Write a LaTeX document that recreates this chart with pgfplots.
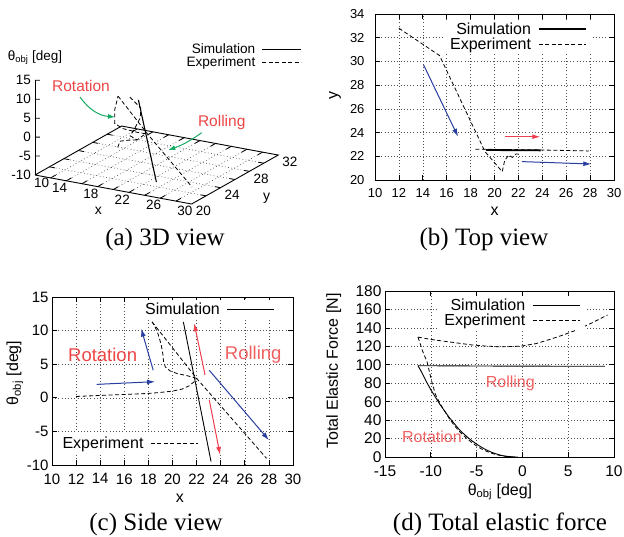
\documentclass[border=0pt]{standalone}
\usepackage{fontspec}
\setmainfont{Liberation Sans}
\newfontfamily\serif{Liberation Serif}
\usepackage{pgfplots}
\pgfplotsset{compat=1.18}
\usetikzlibrary{arrows.meta}
\definecolor{myred}{RGB}{238,62,78}
\definecolor{txtred}{RGB}{236,70,70}
\definecolor{txtred2}{RGB}{240,96,96}
\definecolor{myblue}{RGB}{40,62,160}
\definecolor{mygreen}{RGB}{20,170,100}
\definecolor{gridc}{RGB}{80,80,80}
\tikzset{tl3/.style={font=\fontsize{13.5}{13.5}\selectfont, inner sep=0pt}}
\pgfplotsset{
 gp/.style={scale only axis, tick align=inside, major tick length=5pt,
  grid=major, major grid style={gridc, line width=0.6pt, dash pattern=on 0.8pt off 2.4pt},
  axis line style={line width=0.8pt}, every tick/.style={black, line width=0.7pt},
  tick label style={font=\fontsize{14}{14}\selectfont},
  xticklabel style={yshift=-5pt},
  label style={font=\fontsize{16}{16}\selectfont},
  legend plot pos=right, legend cell align=right,
  legend style={draw=none, fill=white, font=\fontsize{16}{16}\selectfont, inner xsep=5pt, inner ysep=2pt, column sep=6pt, nodes={inner sep=1pt}},
  /pgf/number format/assume math mode=true},
 sim/.style={black, line width=0.9pt},
 exp/.style={black, line width=0.8pt, dash pattern=on 4pt off 2.5pt},
 arr/.style={line width=1pt, -{Latex[length=8pt,width=5pt]}, forget plot},
}
\begin{document}
\begin{tikzpicture}
\useasboundingbox (0pt,0pt) rectangle (624pt,-536pt);

% ---------------- (a) 3D view ----------------
\begin{axis}[at={(35pt,-137.1pt)}, anchor=origin,
  x={(7.83pt,-1.45pt)}, y={(7.22pt,4.08pt)}, z={(0pt,3.79pt)},
  xmin=10,xmax=30,ymin=20,ymax=32,zmin=-10,zmax=15,
  hide axis, clip=false]
\addplot3[gridc, line width=0.6pt, dash pattern=on 0.8pt off 2.4pt, empty line=jump] table {
12 20 -10
12 32 -10

14 20 -10
14 32 -10

16 20 -10
16 32 -10

18 20 -10
18 32 -10

20 20 -10
20 32 -10

22 20 -10
22 32 -10

24 20 -10
24 32 -10

26 20 -10
26 32 -10

28 20 -10
28 32 -10

10 22 -10
30 22 -10

10 24 -10
30 24 -10

10 26 -10
30 26 -10

10 28 -10
30 28 -10

10 30 -10
30 30 -10
};
\addplot3[black, line width=0.8pt, empty line=jump] table {
12 20 -10
12 20.7 -10

14 20 -10
14 20.7 -10

16 20 -10
16 20.7 -10

18 20 -10
18 20.7 -10

20 20 -10
20 20.7 -10

22 20 -10
22 20.7 -10

24 20 -10
24 20.7 -10

26 20 -10
26 20.7 -10

28 20 -10
28 20.7 -10

12 32 -10
12 31.3 -10

14 32 -10
14 31.3 -10

16 32 -10
16 31.3 -10

18 32 -10
18 31.3 -10

20 32 -10
20 31.3 -10

22 32 -10
22 31.3 -10

24 32 -10
24 31.3 -10

26 32 -10
26 31.3 -10

28 32 -10
28 31.3 -10

30 22 -10
29.3 22 -10

30 24 -10
29.3 24 -10

30 26 -10
29.3 26 -10

30 28 -10
29.3 28 -10

30 30 -10
29.3 30 -10

10 22 -10
10.7 22 -10

10 24 -10
10.7 24 -10

10 26 -10
10.7 26 -10

10 28 -10
10.7 28 -10

10 30 -10
10.7 30 -10

10 20 -5
10.48 20.17 -5

10 20 0
10.48 20.17 0

10 20 5
10.48 20.17 5

10 20 10
10.48 20.17 10

10 20 15
10.48 20.17 15
};
\addplot3[black, line width=0.9pt] coordinates {(10,20,-10)(30,20,-10)(30,32,-10)(10,32,-10)(10,20,-10)};
\addplot3[black, line width=0.9pt] coordinates {(10,20,-10)(10,20,15)};
% data
\addplot3[exp] coordinates {(18.3,22.5,11.3)(22,22.5,2.9)(27.8,22.45,-9.0)};
\addplot3[exp] coordinates {(22,22.3,3.0)(21.2,22.0,3.4)(19.8,21.5,4.4)(19.25,21.0,6.1)(18.8,21.5,9)(18.3,22.5,11.3)};
\addplot3[exp] coordinates {(20.0,22.3,11.9)(21.3,22.4,9.4)(21.5,22.1,7.2)(21,21.9,4.5)(20.5,21.8,2.4)(21.2,22.0,1.4)(22,22.3,3.0)};
\addplot3[exp] coordinates {(19,21.7,-1.1)(19.2,21.8,0.5)(20.3,21.8,1.2)(21.2,22.0,1.4)};
\addplot3[black, line width=1.1pt] coordinates {(20.9,22.5,11.3)(23.2,22.5,-9.5)};
% tick labels
\node[tl3, anchor=east, xshift=-4pt] at (axis cs:10,20,-10) {-10};
\node[tl3, anchor=east, xshift=-4pt] at (axis cs:10,20,-5) {-5};
\node[tl3, anchor=east, xshift=-4pt] at (axis cs:10,20,0) {0};
\node[tl3, anchor=east, xshift=-4pt] at (axis cs:10,20,5) {5};
\node[tl3, anchor=east, xshift=-4pt] at (axis cs:10,20,10) {10};
\node[tl3, anchor=east, xshift=-4pt] at (axis cs:10,20,15) {15};
\node[tl3, anchor=north west, xshift=-1pt, yshift=-3pt] at (axis cs:10,20,-10) {10};
\node[tl3, anchor=north east, xshift=1pt, yshift=-2pt] at (axis cs:14,20,-10) {14};
\node[tl3, anchor=north east, xshift=1pt, yshift=-2pt] at (axis cs:18,20,-10) {18};
\node[tl3, anchor=north east, xshift=1pt, yshift=-2pt] at (axis cs:22,20,-10) {22};
\node[tl3, anchor=north east, xshift=1pt, yshift=-2pt] at (axis cs:26,20,-10) {26};
\node[tl3, anchor=north east, xshift=1pt, yshift=-2pt] at (axis cs:30,20,-10) {30};
\node[tl3, anchor=west, xshift=4pt, yshift=-7pt] at (axis cs:30,20,-10) {20};
\node[tl3, anchor=west, xshift=4pt, yshift=-7pt] at (axis cs:30,24,-10) {24};
\node[tl3, anchor=west, xshift=4pt, yshift=-7pt] at (axis cs:30,28,-10) {28};
\node[tl3, anchor=west, xshift=4pt, yshift=-7pt] at (axis cs:30,32,-10) {32};
\end{axis}
\node[font=\fontsize{14}{14}\selectfont] at (98.3pt,-210.7pt) {x};
\node[font=\fontsize{14}{14}\selectfont] at (266.7pt,-198.3pt) {y};
\node[font=\fontsize{13.5}{13.5}\selectfont] at (35pt,-58pt) {θ\textsubscript{obj} [deg]};
\node[font=\fontsize{15.5}{15.5}\selectfont, text=txtred] at (81pt,-86pt) {Rotation};
\node[font=\fontsize{15.5}{15.5}\selectfont, text=txtred] at (221.7pt,-122.7pt) {Rolling};
\draw[mygreen, line width=1pt, -{Latex[length=7pt,width=5pt]}] (80pt,-97pt) to[bend right=25] (115pt,-117pt);
\draw[mygreen, line width=1pt, -{Latex[length=7pt,width=5pt]}] (201.7pt,-132.7pt) to[bend left=8] (168.3pt,-150pt);
% legend for (a)
\begin{axis}[hide axis, scale only axis, at={(0pt,-536pt)}, anchor=south west, width=624pt, height=536pt,
  xmin=0,xmax=1,ymin=0,ymax=1, legend plot pos=right, legend cell align=right,
  legend style={draw=none, fill=white, font=\fontsize{13.6}{13.6}\selectfont, inner xsep=2pt, inner ysep=1pt, column sep=6pt, nodes={inner sep=0.5pt}, at={(axis description cs:0.487,0.896)}, anchor=east},
  legend image code/.code={\draw[#1] (0pt,0pt) -- (39pt,0pt);}]
\addlegendimage{sim}\addlegendentry{Simulation}
\addlegendimage{exp}\addlegendentry{Experiment}
\end{axis}

% ---------------- (b) Top view ----------------
\begin{axis}[gp, at={(375pt,-180pt)}, anchor=south west, width=239pt, height=166pt,
  xmin=10,xmax=30,ymin=20,ymax=34, xtick={10,12,...,30}, ytick={20,22,...,34},
  tick label style={font=\fontsize{13}{13}\selectfont},
  yticklabel style={xshift=-7pt},
  xlabel={x}, ylabel={y},
  xlabel style={at={(axis description cs:0.5,-0.187)},anchor=center},
  ylabel style={at={(axis description cs:-0.167,0.512)},anchor=center},
  legend style={at={(axis description cs:0.908,0.863)},anchor=east},
  legend image code/.code={\draw[#1] (0pt,0pt) -- (47pt,0pt);}]
\addplot[sim, line width=1.8pt] coordinates {(19.3,22.53)(23.85,22.5)};
\addlegendentry{Simulation}
\addplot[exp] coordinates {(18.4,22.6)(23,22.55)(27.9,22.45)};
\addlegendentry{Experiment}
\addplot[exp, forget plot] coordinates {(12,32.8)(15.4,30.5)(19.2,22.4)(20.65,20.7)(20.85,21.65)(21.2,22.1)(21.5,21.9)(21.8,22.2)(22.2,22.2)};
\addplot[arr, myblue] coordinates {(14.07,29.7)(16.95,23.65)};
\addplot[arr, myred] coordinates {(20.9,23.65)(23.83,23.65)};
\addplot[arr, myblue] coordinates {(22.3,21.55)(28.1,21.35)};
\end{axis}

% ---------------- (c) Side view ----------------
% frame, grid, ticks and the Simulation key
\begin{axis}[gp, at={(52pt,-465pt)}, anchor=south west, width=241pt, height=168pt,
  xmin=10,xmax=30,ymin=-10,ymax=15, xtick={10,12,...,30}, ytick={-10,-5,...,15},
  tick label style={font=\fontsize{15}{15}\selectfont},
  xlabel={x}, ylabel={θ\textsubscript{obj} [deg]},
  xlabel style={at={(axis description cs:0.531,-0.196)},anchor=center},
  ylabel style={at={(axis description cs:-0.154,0.548)},anchor=center},
  legend style={at={(axis description cs:0.946,0.923)},anchor=east},
  legend image code/.code={\draw[#1] (0pt,0pt) -- (47pt,0pt);}]
\addlegendimage{sim}\addlegendentry{Simulation}
\end{axis}
% the Experiment key (opaque, under the data)
\begin{axis}[hide axis, scale only axis, at={(52pt,-465pt)}, anchor=south west, width=241pt, height=168pt,
  xmin=0,xmax=1,ymin=0,ymax=1, legend plot pos=right, legend cell align=right,
  legend style={draw=none, fill=white, font=\fontsize{16}{16}\selectfont, inner xsep=4pt, inner ysep=3pt, column sep=6pt, nodes={inner sep=1pt}, at={(axis description cs:0.739,0.131)}, anchor=east},
  legend image code/.code={\draw[#1] (0pt,0pt) -- (47pt,0pt); \path[draw=none] (47pt,0pt) -- (75pt,0pt);}]
\addlegendimage{exp}\addlegendentry{Experiment}
\end{axis}
% the data
\begin{axis}[hide axis, scale only axis, at={(52pt,-465pt)}, anchor=south west, width=241pt, height=168pt,
  xmin=10,xmax=30,ymin=-10,ymax=15]
\addplot[sim] coordinates {(20.9,11.3)(23.2,-9.5)};
\addplot[exp] coordinates {(12,0.2)(14,0.35)(16,0.5)(18,0.65)(19,0.8)(20,1.0)(20.8,1.3)(21.4,1.8)(21.8,2.4)(22,2.9)};
\addplot[exp] coordinates {(22,2.9)(21.2,3.3)(20.4,3.6)(19.8,4.0)(19.4,4.6)(19.25,5.5)(19.2,6.5)(19.05,8.0)(18.8,9.5)(18.5,10.8)(18.3,11.3)};
\addplot[exp] coordinates {(18.3,11.3)(22,2.9)(27.8,-9.0)};
\addplot[arr, myblue] coordinates {(13.7,2.0)(18.55,2.4)};
\addplot[arr, myblue] coordinates {(18.4,4.1)(17.4,10.3)};
\addplot[arr, myred] coordinates {(22.7,3.4)(21.8,11.1)};
\addplot[arr, myred] coordinates {(23.05,-0.3)(23.95,-8.5)};
\addplot[arr, myblue] coordinates {(23.05,4.1)(28.0,-6.3)};
\node[font=\fontsize{18.5}{18.5}\selectfont, text=txtred] at (axis cs:14.2,6.4) {Rotation};
\node[font=\fontsize{18.5}{18.5}\selectfont, text=txtred2] at (axis cs:26.7,6.4) {Rolling};
\end{axis}

% ---------------- (d) Total elastic force ----------------
\begin{axis}[gp, at={(385pt,-457pt)}, anchor=south west, width=229pt, height=166pt,
  xmin=-15,xmax=10,ymin=0,ymax=180, xtick={-15,-10,...,10}, ytick={0,20,...,180},
  tick label style={font=\fontsize{15.5}{15.5}\selectfont},
  xlabel={θ\textsubscript{obj} [deg]}, ylabel={Total Elastic Force [N]},
  xlabel style={at={(axis description cs:0.502,-0.209)},anchor=center},
  ylabel style={at={(axis description cs:-0.224,0.518)},anchor=center},
  legend style={at={(axis description cs:0.875,0.866)},anchor=east},
  legend image code/.code={\draw[#1] (0pt,0pt) -- (47pt,0pt);}]
\addplot[sim] coordinates {(-11.4,99)(-11,92)(-10.5,82)(-10,73)(-9.5,65)(-9,57)(-8.5,50)(-8,43)(-7.5,37)(-7,31)(-6.5,26)(-6,21.5)(-5.5,17.5)(-5,14)(-4.5,10.8)(-4,8)(-3.5,5.7)(-3,3.8)(-2.5,2.3)(-2,1.2)(-1.5,0.5)(-1,0.1)(-0.5,0)};
\addlegendentry{Simulation}
\addplot[sim, forget plot] coordinates {(-11.4,99)(-5,98.7)(0,98.5)(9,98.4)};
\addplot[exp] coordinates {(-11.4,130)(-10,127.5)(-8.5,125.5)(-7,123.5)(-5.5,121.5)(-4,120.3)(-2.5,119.5)(-1,119.8)(0,120.5)(1.5,123)(3,127.5)(4.5,132.5)(6,138)(7.5,145)(8.5,150)(9.3,154)};
\addlegendentry{Experiment}
\addplot[exp, forget plot] coordinates {(-11.4,130)(-10.9,115)(-10.4,103)(-9.9,82)(-9.5,68)(-9,58)(-8.5,50)(-8,42)(-7.5,35)(-7,29)(-6.5,24)(-6,19.5)(-5.5,15.5)(-5,12)(-4.5,9)(-4,6.5)(-3.5,4.5)(-3,3)(-2.5,1.8)(-2,0.9)(-1.5,0.3)(-1,0)};
\node[font=\fontsize{16}{16}\selectfont, text=txtred2] at (axis cs:-1.32,80) {Rolling};
\node[font=\fontsize{16}{16}\selectfont, text=txtred2] at (axis cs:-9.87,22) {Rotation};
\end{axis}

% captions
\node[anchor=base, font=\serif\fontsize{25}{25}\selectfont] at (165pt,-245pt) {(a) 3D view};
\node[anchor=base, font=\serif\fontsize{25}{25}\selectfont] at (484pt,-245pt) {(b) Top view};
\node[anchor=base, font=\serif\fontsize{25}{25}\selectfont] at (156pt,-530pt) {(c) Side view};
\node[anchor=base, font=\serif\fontsize{25}{25}\selectfont] at (500pt,-530pt) {(d) Total elastic force};
\end{tikzpicture}
\end{document}
